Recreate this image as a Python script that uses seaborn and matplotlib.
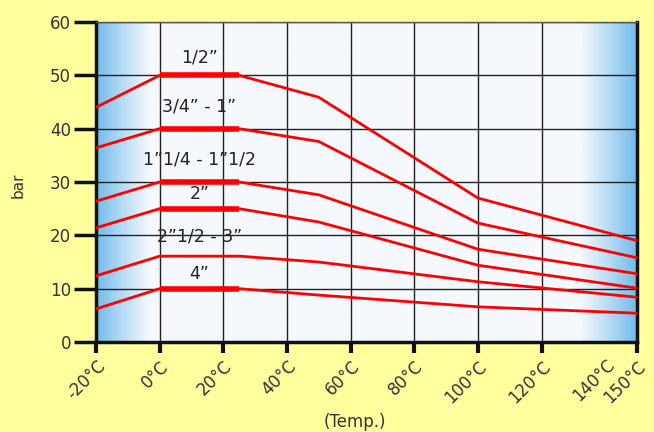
import matplotlib

matplotlib.use("Agg")

import numpy as np
import pandas as pd
import matplotlib.pyplot as plt
import seaborn as sns
from matplotlib.colors import to_rgb

# data
temps = [-20, 0, 25, 50, 100, 150]
s_half = [44.0, 50, 50, 45.9, 27.0, 19.0]
s_3q_1 = [36.4, 40, 40, 37.6, 22.3, 15.8]
s_114_112 = [26.4, 30, 30, 27.6, 17.4, 12.8]
s_2 = [21.4, 25, 25, 22.5, 14.4, 10.1]
s_212_3 = [12.4, 16.1, 16.1, 15.0, 11.3, 8.4]
s_4 = [6.2, 10, 10, 8.8, 6.6, 5.4]

series_names = ['1/2”', '3/4” - 1”', '1”1/4 - 1”1/2', '2”', '2”1/2 - 3”', '4”']
series_vals = [s_half, s_3q_1, s_114_112, s_2, s_212_3, s_4]
label_y = [53.3, 44.2, 34.2, 27.8, 19.8, 12.8]

x_ticks = [-20, 0, 20, 40, 60, 80, 100, 120, 150]
x_labels = ['-20°C', '0°C', '20°C', '40°C', '60°C', '80°C', '100°C', '120°C', '150°C']
y_ticks = [0, 10, 20, 30, 40, 50, 60]

rows = []
for name, vals in zip(series_names, series_vals):
    for t, v in zip(temps, vals):
        rows.append({'temp': t, 'bar': v, 'size': name})
df = pd.DataFrame(rows)

sns.set_style("white")
plt.rcParams['font.family'] = ['DejaVu Sans']

fig = plt.figure(figsize=(6.54, 4.32), dpi=100, facecolor='#FFFF9E')
ax = fig.add_axes([0.1468, 0.2083, 0.8272, 0.7407])

# background with blue fades at both ends
xs = np.linspace(-20, 150, 680)
edge = np.array(to_rgb('#72BBEA'))
base = np.array(to_rgb('#F5F9FE'))
w = np.zeros_like(xs)
left = xs < -3
w[left] = ((-3 - xs[left]) / 17) ** 1.1
right = xs > 132
w[right] = ((xs[right] - 132) / 18) ** 1.1
img = base[None, :] * (1 - w[:, None]) + edge[None, :] * w[:, None]
ax.imshow(img[None, :, :], extent=[-20, 150, 0, 60], aspect='auto', zorder=0)

sns.lineplot(data=df, x='temp', y='bar', hue='size', palette=['#FF0000'] * 6,
             linewidth=2, legend=False, ax=ax, zorder=3)

# thicker flat segment between 0 and 25 degC
for i, vals in enumerate(series_vals):
    if i != 4:
        ax.plot(temps[1:3], vals[1:3], color='#FF0000', lw=4, zorder=4,
                solid_capstyle='butt')

for name, ly in zip(series_names, label_y):
    ax.text(12.5, ly, name, ha='center', va='center', fontsize=12.5,
            color='#222222', zorder=5)

ax.set_xlim(-20, 150)
ax.set_ylim(0, 60)
ax.set_xticks(x_ticks)
ax.set_xticklabels(x_labels, rotation=45, ha='right', rotation_mode='anchor',
                   fontsize=12, color='#333333')
ax.set_xticks([140], minor=True)
ax.set_xticklabels(['140°C'], minor=True, rotation=45, ha='right',
                   rotation_mode='anchor', fontsize=12, color='#333333')
ax.tick_params(axis='x', which='minor', length=0, pad=10)
ax.set_yticks(y_ticks)
ax.set_yticklabels([str(v) for v in y_ticks], fontsize=12, color='#333333')
ax.tick_params(axis='x', which='major', direction='out', length=8, width=3,
               color='#111111', pad=3, bottom=True)
ax.tick_params(axis='y', direction='out', length=16, width=2.5,
               color='#111111', pad=2, left=True)

ax.grid(True, color='#222222', lw=1, zorder=1)
for gl in ax.get_xgridlines() + ax.get_ygridlines():
    gl.set_zorder(1)

for side in ['left', 'bottom', 'right']:
    ax.spines[side].set_color('#111111')
    ax.spines[side].set_linewidth(2.5)
ax.spines['top'].set_color('#555555')
ax.spines['top'].set_linewidth(1)

ax.set_xlabel('(Temp.)', fontsize=12, color='#333333')
ax.xaxis.set_label_coords(0.479, -0.222)
ax.set_ylabel('bar', fontsize=11, color='#333333')
ax.yaxis.set_label_coords(-0.13, 0.49)

fig.savefig('out.png', dpi=100, facecolor=fig.get_facecolor())
